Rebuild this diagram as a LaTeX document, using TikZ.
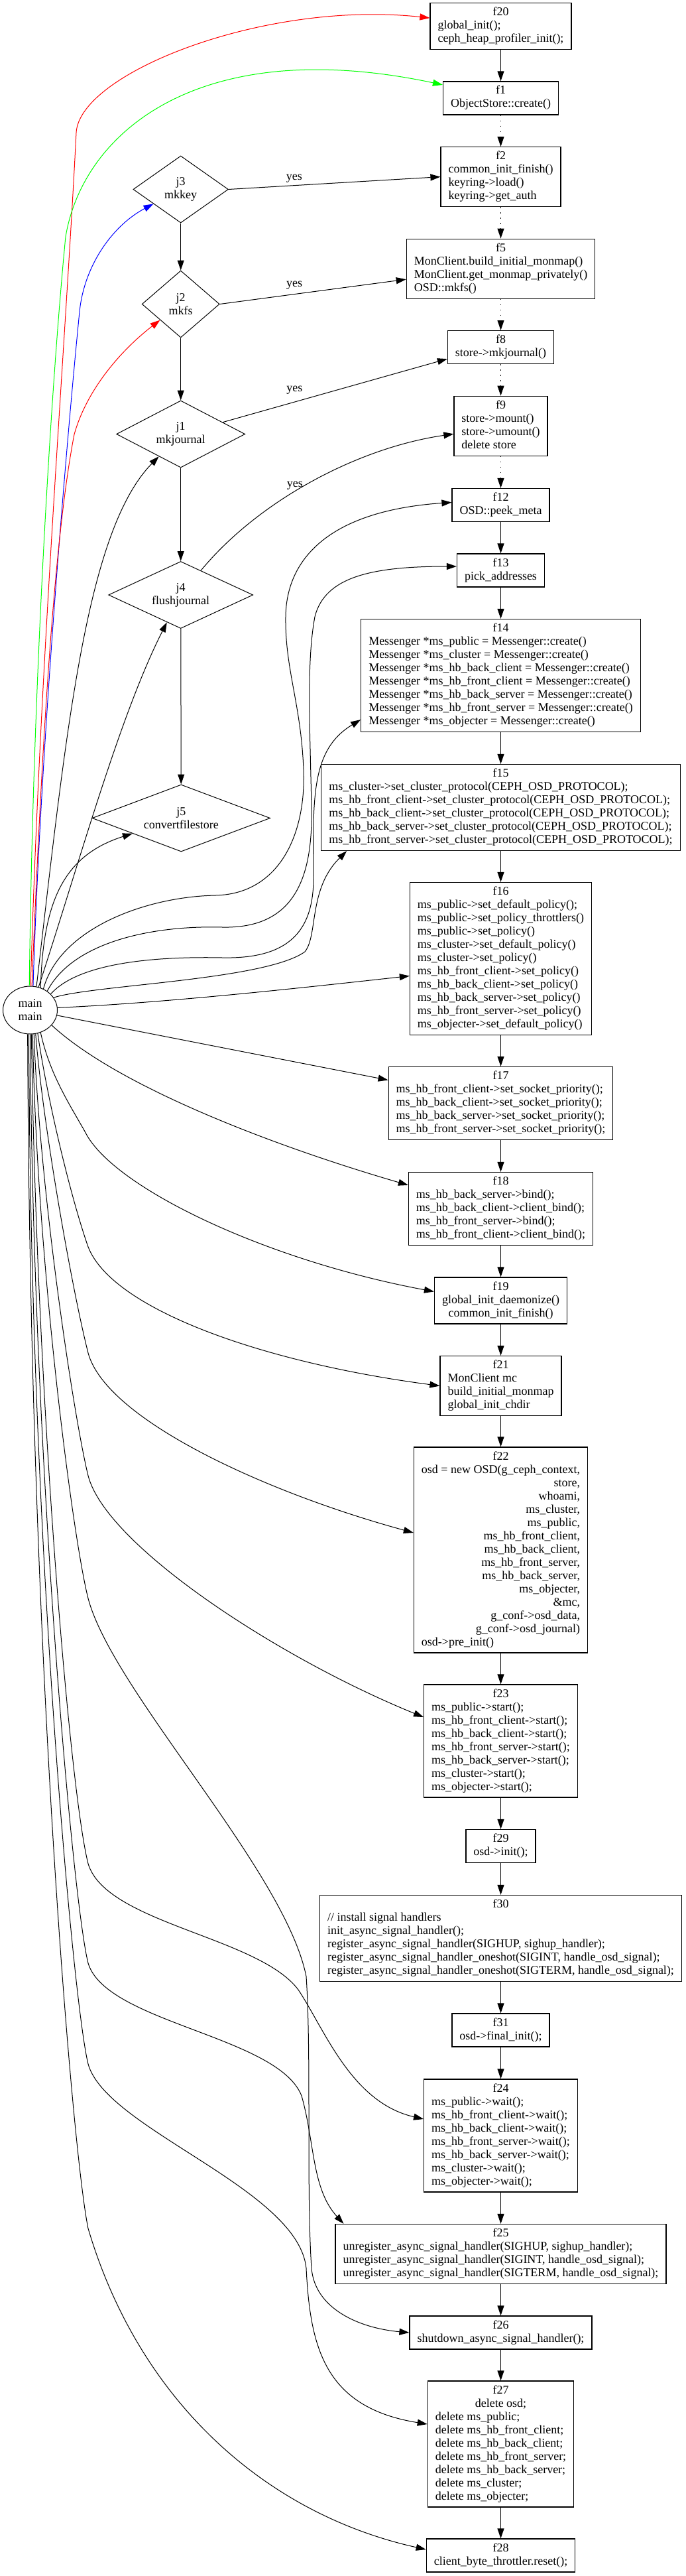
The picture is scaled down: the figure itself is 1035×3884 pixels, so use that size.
\documentclass[tikz,border=0pt]{standalone}
\usepackage{fontspec}
\setmainfont{Liberation Serif}
\usetikzlibrary{arrows.meta,shapes.geometric,calc}
\newcommand{\ctr}[1]{\multicolumn{1}{@{}c@{}}{#1}}
\newcommand{\rgt}[1]{\multicolumn{1}{@{}r@{}}{#1}}

\begin{document}
\begin{tikzpicture}[x=1pt,y=-1pt,
  fnode/.style={draw,line width=1.2pt,inner xsep=11.5pt,inner ysep=5pt,font=\fontsize{18}{20}\selectfont},
  jnode/.style={draw,line width=1pt,diamond,inner sep=0pt,minimum height=101pt,align=center,font=\fontsize{18}{20}\selectfont},
  link/.style={line width=1pt,-{Triangle[length=15pt,width=10pt]}},
  dotlink/.style={link,dash pattern=on 1.5pt off 6.5pt},
  yeslbl/.style={font=\fontsize{18}{20}\selectfont,inner sep=1pt}]
\useasboundingbox[fill=white] (0,0) rectangle (1035,3884);
% function boxes
\node[fnode] (f20) at (755.5,39.6) {\begin{tabular}{@{}l@{}}\ctr{f20}\\global\_init();\\ceph\_heap\_profiler\_init();\end{tabular}};
\node[fnode] (f1) at (755.5,147.9) {\begin{tabular}{@{}l@{}}\ctr{f1}\\ObjectStore::create()\end{tabular}};
\node[fnode] (f2) at (755.5,266.6) {\begin{tabular}{@{}l@{}}\ctr{f2}\\common\_init\_finish()\\keyring->load()\\keyring->get\_auth\end{tabular}};
\node[fnode] (f5) at (755.5,405.2) {\begin{tabular}{@{}l@{}}\ctr{f5}\\MonClient.build\_initial\_monmap()\\MonClient.get\_monmap\_privately()\\OSD::mkfs()\end{tabular}};
\node[fnode] (f8) at (755.5,523.6) {\begin{tabular}{@{}l@{}}\ctr{f8}\\store->mkjournal()\end{tabular}};
\node[fnode] (f9) at (755.5,642.3) {\begin{tabular}{@{}l@{}}\ctr{f9}\\store->mount()\\store->umount()\\delete store\end{tabular}};
\node[fnode] (f12) at (755.5,761.5) {\begin{tabular}{@{}l@{}}\ctr{f12}\\OSD::peek\_meta\end{tabular}};
\node[fnode] (f13) at (755.5,860) {\begin{tabular}{@{}l@{}}\ctr{f13}\\pick\_addresses\end{tabular}};
\node[fnode] (f14) at (755.5,1018.5) {\begin{tabular}{@{}l@{}}\ctr{f14}\\Messenger *ms\_public = Messenger::create()\\Messenger *ms\_cluster = Messenger::create()\\Messenger *ms\_hb\_back\_client = Messenger::create()\\Messenger *ms\_hb\_front\_client = Messenger::create()\\Messenger *ms\_hb\_back\_server = Messenger::create()\\Messenger *ms\_hb\_front\_server = Messenger::create()\\Messenger *ms\_objecter = Messenger::create()\end{tabular}};
\node[fnode] (f15) at (755.5,1217.5) {\begin{tabular}{@{}l@{}}\ctr{f15}\\ms\_cluster->set\_cluster\_protocol(CEPH\_OSD\_PROTOCOL);\\ms\_hb\_front\_client->set\_cluster\_protocol(CEPH\_OSD\_PROTOCOL);\\ms\_hb\_back\_client->set\_cluster\_protocol(CEPH\_OSD\_PROTOCOL);\\ms\_hb\_back\_server->set\_cluster\_protocol(CEPH\_OSD\_PROTOCOL);\\ms\_hb\_front\_server->set\_cluster\_protocol(CEPH\_OSD\_PROTOCOL);\end{tabular}};
\node[fnode] (f16) at (755.5,1445.5) {\begin{tabular}{@{}l@{}}\ctr{f16}\\ms\_public->set\_default\_policy();\\ms\_public->set\_policy\_throttlers()\\ms\_public->set\_policy()\\ms\_cluster->set\_default\_policy()\\ms\_cluster->set\_policy()\\ms\_hb\_front\_client->set\_policy()\\ms\_hb\_back\_client->set\_policy()\\ms\_hb\_back\_server->set\_policy()\\ms\_hb\_front\_server->set\_policy()\\ms\_objecter->set\_default\_policy()\end{tabular}};
\node[fnode] (f17) at (755.5,1663.5) {\begin{tabular}{@{}l@{}}\ctr{f17}\\ms\_hb\_front\_client->set\_socket\_priority();\\ms\_hb\_back\_client->set\_socket\_priority();\\ms\_hb\_back\_server->set\_socket\_priority();\\ms\_hb\_front\_server->set\_socket\_priority();\end{tabular}};
\node[fnode] (f18) at (755.5,1822.5) {\begin{tabular}{@{}l@{}}\ctr{f18}\\ms\_hb\_back\_server->bind();\\ms\_hb\_back\_client->client\_bind();\\ms\_hb\_front\_server->bind();\\ms\_hb\_front\_client->client\_bind();\end{tabular}};
\node[fnode] (f19) at (755.5,1961) {\begin{tabular}{@{}c@{}}f19\\global\_init\_daemonize()\\common\_init\_finish()\end{tabular}};
\node[fnode] (f21) at (755.5,2089.5) {\begin{tabular}{@{}l@{}}\ctr{f21}\\MonClient mc\\build\_initial\_monmap\\global\_init\_chdir\end{tabular}};
\node[fnode] (f22) at (755.5,2337) {\begin{tabular}{@{}l@{}}\ctr{f22}\\osd = new OSD(g\_ceph\_context,\\\rgt{store,}\\\rgt{whoami,}\\\rgt{ms\_cluster,}\\\rgt{ms\_public,}\\\rgt{ms\_hb\_front\_client,}\\\rgt{ms\_hb\_back\_client,}\\\rgt{ms\_hb\_front\_server,}\\\rgt{ms\_hb\_back\_server,}\\\rgt{ms\_objecter,}\\\rgt{\&mc,}\\\rgt{g\_conf->osd\_data,}\\\rgt{g\_conf->osd\_journal)}\\osd->pre\_init()\end{tabular}};
\node[fnode] (f23) at (755.5,2625) {\begin{tabular}{@{}l@{}}\ctr{f23}\\ms\_public->start();\\ms\_hb\_front\_client->start();\\ms\_hb\_back\_client->start();\\ms\_hb\_front\_server->start();\\ms\_hb\_back\_server->start();\\ms\_cluster->start();\\ms\_objecter->start();\end{tabular}};
\node[fnode] (f29) at (755.5,2783.5) {\begin{tabular}{@{}c@{}}f29\\osd->init();\end{tabular}};
\node[fnode] (f30) at (755.5,2922.5) {\begin{tabular}{@{}l@{}}\ctr{f30}\\// install signal handlers\\init\_async\_signal\_handler();\\register\_async\_signal\_handler(SIGHUP, sighup\_handler);\\register\_async\_signal\_handler\_oneshot(SIGINT, handle\_osd\_signal);\\register\_async\_signal\_handler\_oneshot(SIGTERM, handle\_osd\_signal);\end{tabular}};
\node[fnode] (f31) at (755.5,3061) {\begin{tabular}{@{}c@{}}f31\\osd->final\_init();\end{tabular}};
\node[fnode] (f24) at (755.5,3220) {\begin{tabular}{@{}l@{}}\ctr{f24}\\ms\_public->wait();\\ms\_hb\_front\_client->wait();\\ms\_hb\_back\_client->wait();\\ms\_hb\_front\_server->wait();\\ms\_hb\_back\_server->wait();\\ms\_cluster->wait();\\ms\_objecter->wait();\end{tabular}};
\node[fnode] (f25) at (755.5,3398.5) {\begin{tabular}{@{}l@{}}\ctr{f25}\\unregister\_async\_signal\_handler(SIGHUP, sighup\_handler);\\unregister\_async\_signal\_handler(SIGINT, handle\_osd\_signal);\\unregister\_async\_signal\_handler(SIGTERM, handle\_osd\_signal);\end{tabular}};
\node[fnode] (f26) at (755.5,3517) {\begin{tabular}{@{}c@{}}f26\\shutdown\_async\_signal\_handler();\end{tabular}};
\node[fnode] (f27) at (755.5,3685) {\begin{tabular}{@{}l@{}}\ctr{f27}\\\ctr{delete osd;}\\delete ms\_public;\\delete ms\_hb\_front\_client;\\delete ms\_hb\_back\_client;\\delete ms\_hb\_front\_server;\\delete ms\_hb\_back\_server;\\delete ms\_cluster;\\delete ms\_objecter;\end{tabular}};
\node[fnode] (f28) at (755.5,3853) {\begin{tabular}{@{}c@{}}f28\\client\_byte\_throttler.reset();\end{tabular}};
% switches
\node[jnode,minimum width=143.5pt,shape aspect=1.42] (j3) at (272.7,285.5) {j3\\mkkey};
\node[jnode,minimum width=117pt,shape aspect=1.16] (j2) at (272.7,458.5) {j2\\mkfs};
\node[jnode,minimum width=194pt,shape aspect=1.92] (j1) at (272.7,654.5) {j1\\mkjournal};
\node[jnode,minimum width=218pt,shape aspect=2.16] (j4) at (272.7,897) {j4\\flushjournal};
\node[jnode,minimum width=268.6pt,shape aspect=2.66] (j5) at (273.3,1233.5) {j5\\convertfilestore};
\node[draw,ellipse,line width=1pt,minimum width=82pt,minimum height=72pt,inner sep=0pt,align=center,font=\fontsize{18}{20}\selectfont] (main) at (45.5,1523) {main\\main};
% main column
\foreach \a/\b in {f20/f1,f12/f13,f13/f14,f14/f15,f15/f16,f16/f17,f17/f18,f18/f19,f19/f21,f21/f22,f22/f23,f23/f29,f29/f30,f30/f31,f31/f24,f24/f25,f25/f26,f26/f27,f27/f28}
  \draw[link] (\a) -- (\b);
\foreach \a/\b in {f1/f2,f2/f5,f5/f8,f8/f9,f9/f12}
  \draw[dotlink] (\a) -- (\b);
\foreach \a/\b in {j3/j2,j2/j1,j1/j4,j4/j5}
  \draw[link] (\a) -- (\b);
% yes branches
\draw[link] (j3.east) -- node[yeslbl,pos=0.31,above=3pt]{yes} (f2.west);
\draw[link] (j2.east) -- node[yeslbl,pos=0.4,above=6pt]{yes} ($(f5.west)+(0,16)$);
\draw[link] (j1) -- node[yeslbl,pos=0.32,above=10pt]{yes} ($(f8.west)+(0,17.5)$);
\draw[link] (j4) .. controls (390,755) and (540,675) .. node[yeslbl,pos=0.47,anchor=east,xshift=-2pt]{yes} ($(f9.west)+(0,12)$);
% coloured calls
\draw[link,red] (main.89) .. controls (60,1000) and (100,500) .. (115,200) .. controls (120,110) and (400,0) .. ($(f20.west)+(0,-12.5)$);
\draw[link,green] (main.92) .. controls (50,1000) and (80,550) .. (99,357) .. controls (125,200) and (300,50) .. ($(f1.west)+(0,-20)$);
\draw[link,blue] (main.83) .. controls (62,1100) and (105,620) .. (120,470) .. controls (127,400) and (170,340) .. (j3);
\draw[link,red] (main.86) .. controls (62,1150) and (80,820) .. (112,655) .. controls (130,590) and (180,530) .. (j2);
% calls from main
\draw[link] (main.75) .. controls (100,1100) and (130,800) .. (j1);
\draw[link] (main.70) .. controls (120,1300) and (180,1080) .. (j4);
\draw[link] (main.65) .. controls (65,1360) and (95,1290) .. (j5);
\draw[link] (main.58) .. controls (90,1400) and (220,1352) .. (325,1350) .. controls (420,1348) and (462,1260) .. (458,1160) .. controls (454,1060) and (430,1010) .. (431,930) .. controls (432,840) and (500,770) .. ($(f12.west)+(0,-4)$);
\draw[link] (main.48) .. controls (110,1420) and (230,1395) .. (336,1398) .. controls (440,1400) and (472,1330) .. (470,1220) .. controls (468,1100) and (462,1000) .. (475,930) .. controls (490,870) and (560,854) .. ($(f13.west)+(0,-6)$);
\draw[link] (main.38) .. controls (120,1450) and (240,1442) .. (336,1444) .. controls (440,1446) and (474,1400) .. (473,1320) .. controls (472,1200) and (470,1130) .. ($(f14.south west)+(0,-19)$);
\draw[link] (main.28) .. controls (140,1485) and (400,1478) .. (460,1435) .. controls (480,1410) and (465,1340) .. ($(f15.south west)+(39,0)$);
\draw[link] (main.5) .. controls (250,1512) and (450,1490) .. ($(f16.west)+(0,26)$);
\draw[link] (main) -- ($(f17.north west)+(0,20.6)$);
\draw[link] (main.-35) .. controls (180,1640) and (420,1730) .. ($(f18.north west)+(0,20)$);
\draw[link] (main.-65) .. controls (75,1620) and (105,1665) .. (128.6,1707) .. controls (170,1790) and (400,1900) .. ($(f19.north west)+(0,22)$);
\draw[link] (main.-72) .. controls (70,1650) and (105,1800) .. (133,1880) .. controls (170,1975) and (400,2055) .. (f21.west);
\draw[link] (main.-77) .. controls (65,1700) and (110,1950) .. (133,2040) .. controls (160,2140) and (400,2250) .. ($(f22.west)+(0,-26)$);
\draw[link] (main.-81) .. controls (60,1800) and (112,2140) .. (133,2225) .. controls (160,2330) and (420,2500) .. ($(f23.west)+(0,-36)$);
\draw[link] (main.-84) .. controls (55,1900) and (110,2320) .. (133,2410) .. controls (170,2550) and (430,2820) .. (462,2980) .. controls (470,3100) and (462,3300) .. (470,3420) .. controls (475,3480) and (540,3510) .. (f26.west);
\draw[link] (main.-87) .. controls (55,2100) and (105,2700) .. (133,2810) .. controls (160,2900) and (390,2920) .. (450,3000) .. controls (490,3060) and (530,3170) .. ($(f24.west)+(0,-25)$);
\draw[link] (main.-90) .. controls (50,2200) and (110,2870) .. (133,2960) .. controls (160,3050) and (420,3070) .. (455,3160) .. controls (475,3230) and (470,3300) .. ($(f25.north west)+(13,0)$);
\draw[link] (main.-93) .. controls (45,2300) and (110,3020) .. (133,3112) .. controls (160,3210) and (450,3300) .. (462,3420) .. controls (468,3540) and (490,3630) .. ($(f27.west)+(0,-30)$);
\draw[link] (main.-96) .. controls (45,2500) and (110,3250) .. (133,3360) .. controls (210,3620) and (400,3790) .. ($(f28.west)+(0,-9)$);
\end{tikzpicture}
\end{document}
